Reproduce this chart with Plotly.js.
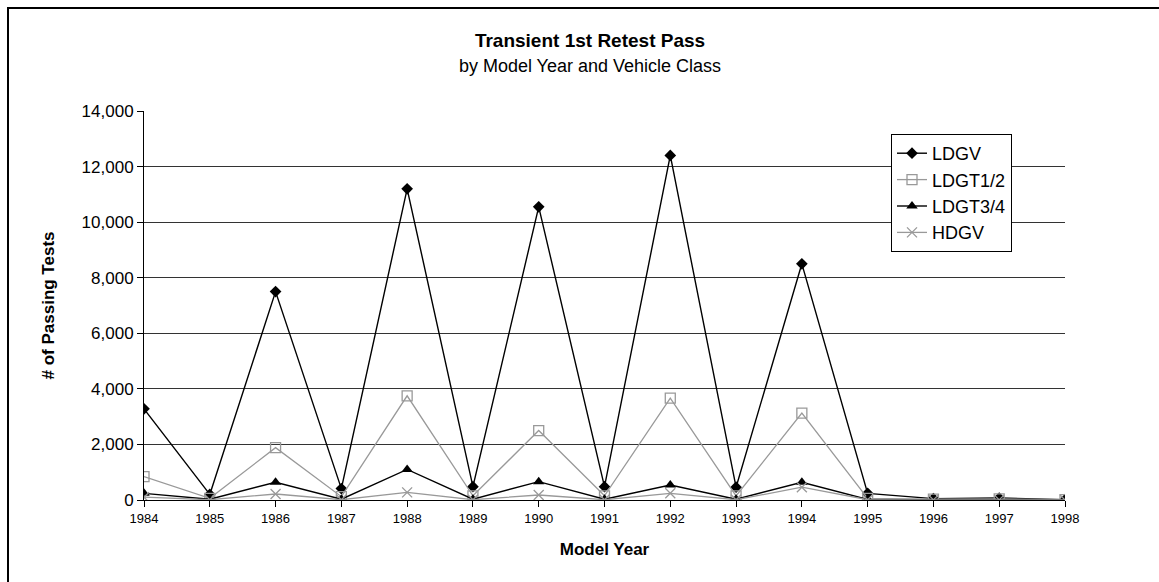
<!DOCTYPE html>
<html>
<head>
<meta charset="utf-8">
<script src="https://cdn.plot.ly/plotly-3.0.1.min.js"></script>
<style>html,body{margin:0;padding:0;background:#fff;}#chart{width:1159px;height:582px;}</style>
</head>
<body>
<div id="chart"></div>
<script>
const years = [1984,1985,1986,1987,1988,1989,1990,1991,1992,1993,1994,1995,1996,1997,1998];
const ldgv    = [3280,200,7500,410,11200,480,10550,480,12400,460,8500,240,50,70,10];
const ldgt12  = [840,60,1885,120,3750,150,2500,150,3665,150,3125,60,30,40,10];
const ldgt34  = [240,30,640,30,1100,30,660,30,540,30,640,20,10,10,5];
const hdgv    = [100,10,216,10,275,10,180,10,240,10,460,10,5,5,2];
const seriesNames = ['LDGV','LDGT1/2','LDGT3/4','HDGV'];
const yTicks = [0,2000,4000,6000,8000,10000,12000,14000];

const font = 'Arial, "Liberation Sans", sans-serif';
const gray = '#999999';
const traces = [
  {x: years, y: ldgv, name: seriesNames[0], mode: 'lines+markers',
   line: {color: '#000', width: 1.4}, marker: {symbol: 'diamond', size: 9, color: '#000'}},
  {x: years, y: ldgt12, name: seriesNames[1], mode: 'lines+markers',
   line: {color: gray, width: 1.3}, marker: {symbol: 'square-open', size: 10, color: gray, line: {width: 1.3, color: gray}}},
  {x: years, y: ldgt34, name: seriesNames[2], mode: 'lines+markers',
   line: {color: '#000', width: 1.4}, marker: {symbol: 'triangle-up', size: 10, color: '#000'}},
  {x: years, y: hdgv, name: seriesNames[3], mode: 'lines+markers',
   line: {color: gray, width: 1.3}, marker: {symbol: 'x-thin-open', size: 10, color: gray, line: {width: 1.3, color: gray}}}
];

const L = 144, R = 94, T = 111, B = 82;
const pw = 1159 - L - R, ph = 582 - T - B;

const layout = {
  width: 1159, height: 582,
  margin: {l: L, r: R, t: T, b: B},
  paper_bgcolor: '#fff', plot_bgcolor: '#fff',
  font: {family: font, color: '#000', size: 15},
  showlegend: true,
  legend: {
    x: (891 - L) / pw, y: (500 - 134) / ph, xanchor: 'left', yanchor: 'top',
    bgcolor: '#fff', bordercolor: '#000', borderwidth: 1,
    font: {family: font, size: 18, color: '#000'},
    tracegroupgap: 0, itemwidth: 30
  },
  xaxis: {
    range: [1984, 1998], tickmode: 'array', tickvals: years, ticktext: years.map(String),
    showline: true, linecolor: '#000', linewidth: 1,
    ticks: 'outside', ticklen: 6, tickcolor: '#000',
    showgrid: false, zeroline: false,
    tickfont: {family: font, size: 13},
    title: {text: '<b>Model Year</b>', font: {family: font, size: 17}, standoff: 18}
  },
  yaxis: {
    range: [0, 14000], tickmode: 'array', tickvals: yTicks,
    ticktext: yTicks.map(v => v.toLocaleString('en-US')),
    showline: true, linecolor: '#000', linewidth: 1,
    ticks: 'outside', ticklen: 6, tickcolor: '#000',
    showgrid: true, gridcolor: '#333', gridwidth: 1, zeroline: false,
    tickfont: {family: font, size: 17},
    title: {text: '<b># of Passing Tests</b>', font: {family: font, size: 17}, standoff: 22}
  },
  title: {
    text: '<b>Transient 1st Retest Pass</b><br><span style="font-size:18px">by Model Year and Vehicle Class</span>',
    font: {family: font, size: 19, color: '#000'},
    x: 590 / 1159, xanchor: 'center', y: 1 - 47 / 582, yanchor: 'top'
  },
  shapes: [{
    type: 'rect', xref: 'paper', yref: 'paper', layer: 'above',
    x0: (8 - L) / pw, x1: (1200 - L) / pw,
    y0: (582 - B - 620) / ph, y1: (582 - B - 8) / ph,
    line: {color: '#000', width: 2}
  }]
};

Plotly.newPlot('chart', traces, layout, {displayModeBar: false, staticPlot: true});
</script>
</body>
</html>
